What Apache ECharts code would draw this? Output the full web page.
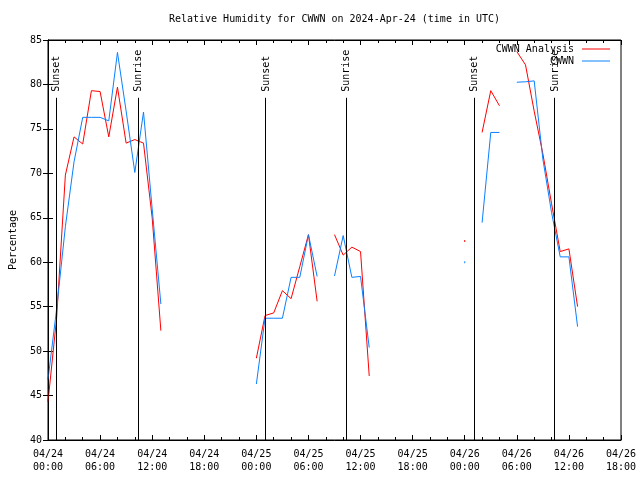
<!DOCTYPE html>
<html>
<head>
<meta charset="utf-8">
<script src="https://cdn.jsdelivr.net/npm/echarts@6/dist/echarts.min.js"></script>
<style>html,body{margin:0;padding:0;background:#fff}#c{width:640px;height:480px}</style>
</head>
<body>
<div id="c"></div>
<script>
// Hourly values, index = hours since 2024-04-24 00:00 UTC
const tickLabels = ['04/24\n00:00','04/24\n06:00','04/24\n12:00','04/24\n18:00',
  '04/25\n00:00','04/25\n06:00','04/25\n12:00','04/25\n18:00',
  '04/26\n00:00','04/26\n06:00','04/26\n12:00','04/26\n18:00'];

const analysis = [
  44.3, 53.8, 69.8, 74.1, 73.3, 79.3, 79.2, 74.1, 79.7, 73.4, 73.8, 73.4, 65.0, 52.3,
  null, null, null, null, null, null, null, null, null, null,
  49.2, 54.0, 54.3, 56.8, 55.9, 59.5, 63.1, 55.6,
  null,
  63.1, 60.8, 61.7, 61.2, 47.2,
  null, null, null, null, null, null, null, null, null, null,
  62.4,
  null,
  74.6, 79.3, 77.6,
  null,
  83.7, 82.2, 77.0, 72.2, 66.6, 61.2, 61.5, 55.0,
  null, null, null, null, null
];

const observed = [
  46.8, 54.8, 64.0, 71.3, 76.3, 76.3, 76.3, 75.9, 83.6, 77.0, 70.1, 76.9, 66.0, 55.3,
  null, null, null, null, null, null, null, null, null, null,
  46.3, 53.7, 53.7, 53.7, 58.3, 58.3, 63.1, 58.4,
  null,
  58.45, 63.0, 58.3, 58.4, 50.4,
  null, null, null, null, null, null, null, null, null, null,
  60.0,
  null,
  64.45, 74.6, 74.6,
  null,
  80.25, 80.3, 80.4, 71.6, 65.6, 60.6, 60.6, 52.75,
  null, null, null, null, null
];

const sunNames = ['Sunset', 'Sunrise', 'Sunset', 'Sunrise', 'Sunset', 'Sunrise'];
const sunHours = [0.96, 10.37, 25.06, 34.35, 49.05, 58.34];

const FONT = '"DejaVu Sans Mono", "Liberation Mono", monospace';
const RED = '#ff0000';
const BLUE = '#0a80ff';

function toPairs(arr) { return arr.map((v, i) => [i, v == null ? '-' : v]); }
function isolatedSize(arr) {
  return function (val, p) {
    const i = p.dataIndex;
    const prev = i > 0 ? arr[i - 1] : null;
    const next = i < arr.length - 1 ? arr[i + 1] : null;
    return (arr[i] != null && prev == null && next == null) ? [1, 2] : 0;
  };
}

const chart = echarts.init(document.getElementById('c'), null, {renderer: 'canvas'});

const xCommon = {
  type: 'value', min: 0, max: 66, interval: 6,
  axisLine: {show: true, lineStyle: {color: '#000', width: 1}},
  axisTick: {show: true, inside: true, length: 5, lineStyle: {color: '#000'}},
  minorTick: {show: true, splitNumber: 3, length: 3, lineStyle: {color: '#000'}},
  splitLine: {show: false}, minorSplitLine: {show: false}
};
const yCommon = {
  type: 'value', min: 40, max: 85, interval: 5,
  axisLine: {show: true, lineStyle: {color: '#000', width: 1}},
  axisTick: {show: true, inside: true, length: 5, lineStyle: {color: '#000'}},
  splitLine: {show: false}
};

const option = {
  animation: false,
  backgroundColor: '#fff',
  grid: {left: 46, right: 19, top: 40, bottom: 40, show: false},
  legend: [
    {data: ['CWWN Analysis'], right: 30, top: 44, padding: 0, orient: 'vertical', align: 'right',
     icon: 'rect', itemWidth: 28, itemHeight: 1, selectedMode: false,
     textStyle: {fontFamily: FONT, fontSize: 10, color: '#000', padding: [0, 3, 0, 0]}},
    {data: ['CWWN'], right: 30, top: 56, padding: 0, orient: 'vertical', align: 'right',
     icon: 'rect', itemWidth: 28, itemHeight: 1, selectedMode: false,
     textStyle: {fontFamily: FONT, fontSize: 10, color: '#000', padding: [0, 3, 0, 0]}}
  ],
  xAxis: [
    Object.assign({}, xCommon, {position: 'bottom',
      axisLabel: {show: true, margin: 8, fontFamily: FONT, fontSize: 10, color: '#000', lineHeight: 13,
        formatter: v => tickLabels[Math.round(v / 6)] || ''}}),
    Object.assign({}, xCommon, {position: 'top', axisLabel: {show: false}})
  ],
  yAxis: [
    Object.assign({}, yCommon, {position: 'left', name: 'Percentage', nameLocation: 'middle', nameGap: 30,
      nameTextStyle: {fontFamily: FONT, fontSize: 10, color: '#000'},
      axisLabel: {show: true, margin: 6, fontFamily: FONT, fontSize: 10, color: '#000'}}),
    Object.assign({}, yCommon, {position: 'right', axisLabel: {show: false}})
  ],
  series: [
    {
      name: 'CWWN Analysis', type: 'line', xAxisIndex: 0, yAxisIndex: 0,
      data: toPairs(analysis), connectNulls: false, showSymbol: true,
      symbol: 'rect', symbolSize: isolatedSize(analysis),
      lineStyle: {color: RED, width: 1}, itemStyle: {color: RED},
      emphasis: {disabled: true}, z: 3,
      markLine: {
        silent: true, symbol: ['none', 'none'], animation: false,
        lineStyle: {color: '#000', width: 1, type: 'solid'},
        label: {show: false}, emphasis: {disabled: true},
        data: sunHours.map(h => [{coord: [h, 40]}, {coord: [h, 78.5]}])
      }
    },
    {
      name: 'CWWN', type: 'line', xAxisIndex: 0, yAxisIndex: 0,
      data: toPairs(observed), connectNulls: false, showSymbol: true,
      symbol: 'rect', symbolSize: isolatedSize(observed),
      lineStyle: {color: BLUE, width: 1}, itemStyle: {color: BLUE},
      emphasis: {disabled: true}, z: 4
    }
  ]
};

chart.setOption(option);

const left = chart.convertToPixel({seriesIndex: 0}, [0, 40]);
const right = chart.convertToPixel({seriesIndex: 0}, [66, 85]);
const graphics = [
  {type: 'rect', shape: {x: left[0], y: right[1], width: right[0] - left[0], height: left[1] - right[1]},
   style: {fill: 'none', stroke: '#000', lineWidth: 1}, silent: true, z: 10},
  {type: 'text', x: (left[0] + right[0]) / 2, y: 19,
   style: {text: 'Relative Humidity for CWWN on 2024-Apr-24 (time in UTC)', font: '10px ' + FONT,
     fill: '#000', align: 'center', verticalAlign: 'middle'}}
];
sunHours.forEach((h, i) => {
  const p = chart.convertToPixel({seriesIndex: 0}, [h, 78.5]);
  graphics.push({type: 'text', x: p[0] + 0.5, y: p[1] - 6, rotation: Math.PI / 2,
    style: {text: sunNames[i], font: '10px ' + FONT, fill: '#000', align: 'left', verticalAlign: 'middle'}});
});
chart.setOption({graphic: graphics});
</script>
</body>
</html>
